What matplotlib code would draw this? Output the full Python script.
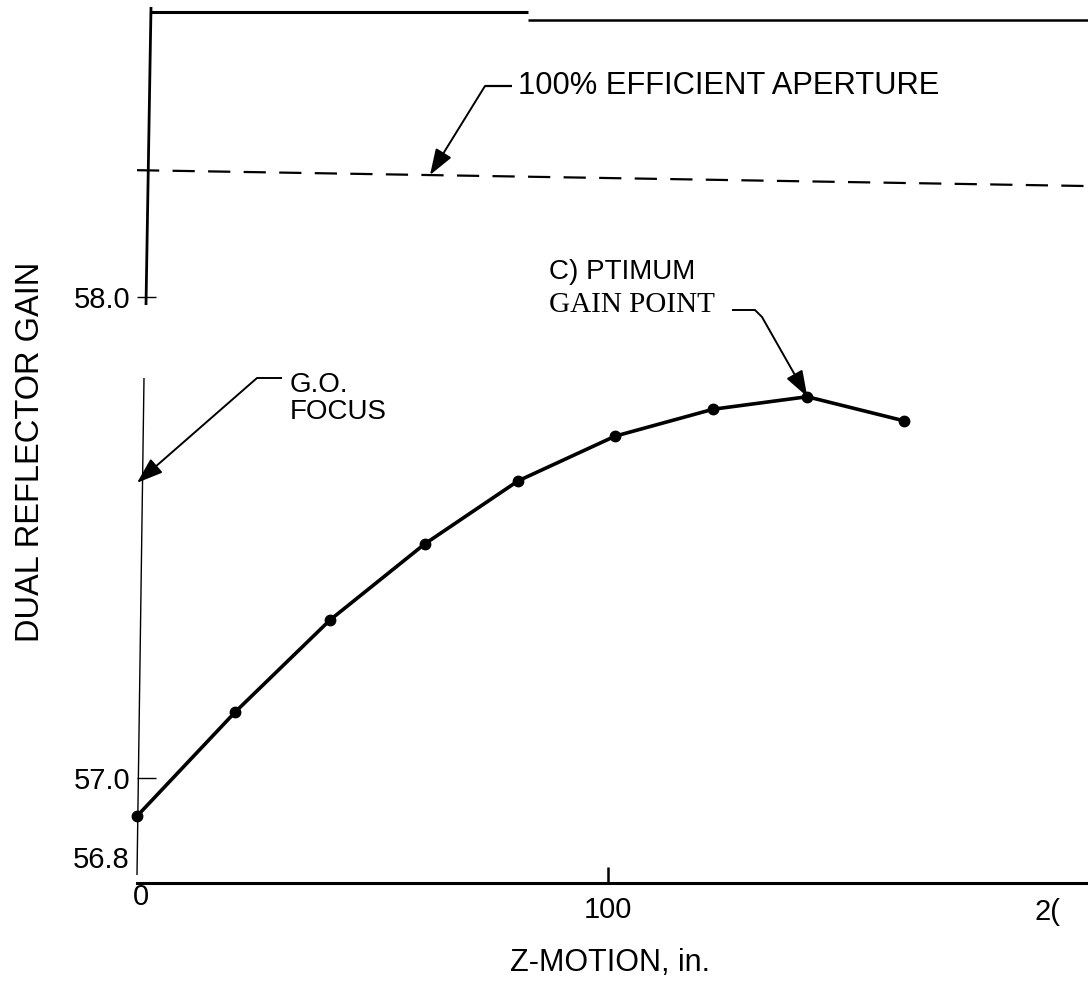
import matplotlib
matplotlib.use('Agg')
import matplotlib.pyplot as plt
from matplotlib.lines import Line2D

# ---------------- data ----------------
z_motion = [0, 20.9, 41.0, 61.1, 80.9, 101.5, 122.3, 142.3, 162.8]
gain = [56.920, 57.137, 57.328, 57.486, 57.617, 57.710, 57.766, 57.792, 57.742]

eff_z = [0, 201.9]
eff_gain = [58.263, 58.230]

optimum_point = (142.3, 57.792)
go_focus_point = (0.0, 57.613)
eff_arrow_point = (62.2, 58.253)

y_ticks = [57.0, 58.0]
y_tick_labels = ['57.0', '58.0']
x_ticks = [100]
x_tick_labels = ['100']

# ---------------- layout ----------------
W, H, DPI = 1088, 981, 100
plt.rcParams['font.family'] = ['Liberation Sans', 'DejaVu Sans']

fig = plt.figure(figsize=(W / DPI, H / DPI), dpi=DPI)
fig.patch.set_facecolor('white')


def fx(px):
    return px / W


def fy(py):
    return 1 - py / H


ax = fig.add_axes([fx(137), fy(883), fx(1088) - fx(137), fy(11.7) - fy(883)])
ax.set_xlim(0, 201.9)
ax.set_ylim(56.781, 58.5925)
ax.patch.set_alpha(0)

ax.plot(z_motion, gain, color='black', lw=2.6, marker='o', ms=7.5,
        clip_on=False, solid_joinstyle='round')
ax.plot(eff_z, eff_gain, color='black', lw=1.6, ls=(0, (10, 6)))

for s in ['top', 'right', 'left']:
    ax.spines[s].set_visible(False)
ax.spines['bottom'].set_linewidth(2.2)

ax.set_yticks(y_ticks)
ax.set_yticklabels(y_tick_labels)
ax.set_xticks(x_ticks)
ax.set_xticklabels(x_tick_labels)
ax.tick_params(axis='y', direction='in', length=14, width=1.0, labelsize=21, pad=5)
ax.tick_params(axis='x', direction='in', length=11.5, width=1.8, labelsize=21, pad=9)


# frame lines (drawn figure)
def fline(xs, ys, lw):
    fig.add_artist(Line2D([fx(x) for x in xs], [fy(y) for y in ys],
                          lw=lw, color='black', solid_capstyle='butt'))


fline([151, 528], [11.7, 11.7], 2.2)
fline([528, 1088], [20, 20], 1.8)
fline([151, 146], [7, 305], 2.0)
fline([144, 137], [378, 875], 1.0)

arrow_kw = dict(arrowstyle='-|>,head_length=0.8,head_width=0.28', color='black',
                lw=1.4, shrinkA=0, shrinkB=0, mutation_scale=20)

# G.O. focus
fline([257, 282], [378, 378], 1.4)
ax.annotate('', xy=go_focus_point, xycoords='data', xytext=(257, H - 378),
            textcoords='figure pixels', arrowprops=arrow_kw, annotation_clip=False)
fig.text(fx(290), fy(385), 'G.O.', fontsize=20, ha='left', va='center')
fig.text(fx(290), fy(412), 'FOCUS', fontsize=20, ha='left', va='center')

# 100% efficient aperture
fline([485, 512], [86, 86], 1.6)
ax.annotate('', xy=eff_arrow_point, xycoords='data', xytext=(485, H - 86),
            textcoords='figure pixels', arrowprops=arrow_kw, annotation_clip=False)
fig.text(fx(518), fy(86), '100% EFFICIENT APERTURE', fontsize=22.2, ha='left', va='center')

# optimum gain point
fig.text(fx(549), fy(272), 'C) PTIMUM', fontsize=20, ha='left', va='center')
fig.text(fx(549), fy(305), 'GAIN POINT', fontsize=21, ha='left', va='center',
         family='Liberation Serif')
fline([732, 755, 762], [310, 310, 317], 1.4)
ax.annotate('', xy=optimum_point, xycoords='data', xytext=(762, H - 317),
            textcoords='figure pixels', arrowprops=arrow_kw, annotation_clip=False)

# extra axis texts
fig.text(fx(130), fy(860), '56.8', fontsize=21, ha='right', va='center')
fig.text(fx(141), fy(897), '0', fontsize=21, ha='center', va='center')
fig.text(fx(1047), fy(912), '2(', fontsize=21, ha='center', va='center')

fig.text(fx(31), fy(452), 'DUAL REFLECTOR GAIN', fontsize=23.5, rotation=90,
         ha='center', va='center')
fig.text(fx(610), fy(963), 'Z-MOTION, in.', fontsize=22, ha='center', va='center')

fig.savefig('out.png', dpi=DPI, facecolor='white')
